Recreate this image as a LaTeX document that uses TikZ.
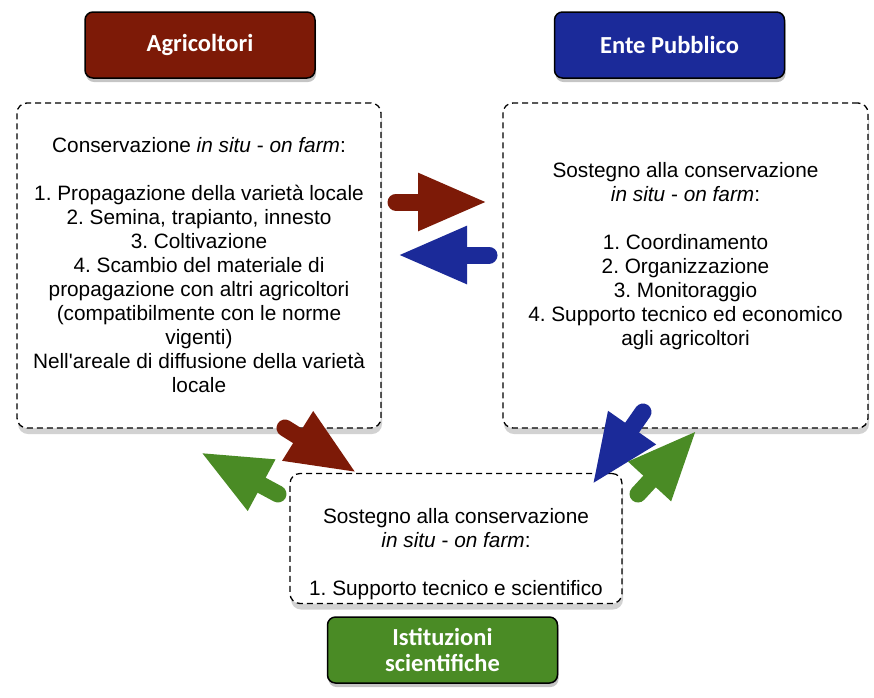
\documentclass[tikz,border=0pt]{standalone}
\usepackage{fontspec}
\setmainfont{Liberation Sans}
\newfontfamily\titlefont{Carlito}
\usepackage{xcolor}
\usetikzlibrary{arrows.meta,shadows,positioning}
\definecolor{agrired}{HTML}{7D1A07}
\definecolor{enteblue}{HTML}{1B2A99}
\definecolor{istgreen}{HTML}{4A8B25}
\frenchspacing

\begin{document}
\begin{tikzpicture}[x=1pt,y=-1pt,
titlebox/.style={draw=black,line width=1.5pt,rounded corners=8pt,minimum width=230pt,minimum height=66pt,text=white,align=center,font=\titlefont\bfseries\fontsize{24.5}{26}\selectfont,drop shadow={shadow xshift=1pt,shadow yshift=-4pt,opacity=0.45}},
dashbox/.style={draw=black,fill=white,dash pattern=on 6pt off 4pt,line width=1.3pt,rounded corners=10pt,align=center,font=\fontsize{20.8}{24}\selectfont,drop shadow={shadow xshift=1pt,shadow yshift=-6pt,opacity=0.35}},
fatarrow/.style={line width=17pt,line cap=round,-{Triangle[length=70pt,width=53pt]}}]
\useasboundingbox[fill=white](0,0)rectangle(874,697);
\node[titlebox,fill=agrired](agricoltori)at(200,45){Agricoltori};
\node[titlebox,fill=enteblue](ente)at(669.5,45){Ente Pubblico};
\node[dashbox,minimum width=364pt,minimum height=325pt](lbox)at(199,265.5){Conservazione \textit{in situ} - \textit{on farm}:\\ ~\\
1. Propagazione della variet\`a locale\\ 2. Semina, trapianto, innesto\\ 3. Coltivazione\\ 4. Scambio del materiale di\\
propagazione con altri agricoltori\\ (compatibilmente con le norme\\ vigenti)\\ Nell\textquotesingle areale di diffusione della variet\`a\\ locale};
\node[dashbox,minimum width=365pt,minimum height=325pt](rbox)at(685.5,265.5){Sostegno alla conservazione\\ \textit{in situ} - \textit{on farm}:\\ ~\\
1. Coordinamento\\ 2. Organizzazione\\ 3. Monitoraggio\\ 4. Supporto tecnico ed economico\\ agli agricoltori\\ ~};
\node[dashbox,minimum width=332pt,minimum height=127pt](bbox)at(456,538.5){\rule{0pt}{23pt}\\ Sostegno alla conservazione\\ \textit{in situ} - \textit{on farm}:\\ ~\\ 1. Supporto tecnico e scientifico};
\node[titlebox,fill=istgreen](istituzioni)at(442.5,650){Istituzioni\\ scientifiche};
\coordinate(ag1)at(396,202);\coordinate(ag2)at(488,202);
\coordinate(en1)at(489,255);\coordinate(en2)at(397,255);
\coordinate(ag3)at(285,428);\coordinate(ag4)at(357,473);
\coordinate(en3)at(643,412);\coordinate(en4)at(592,485);
\coordinate(is1)at(278,494);\coordinate(is2)at(200,452);
\coordinate(is3)at(638,494);\coordinate(is4)at(697,430);
\draw[fatarrow,agrired](ag1)--(ag2);
\draw[fatarrow,enteblue](en1)--(en2);
\draw[fatarrow,agrired](ag3)--(ag4);
\draw[fatarrow,istgreen](is1)--(is2);
\draw[fatarrow,enteblue](en3)--(en4);
\draw[fatarrow,istgreen](is3)--(is4);
\end{tikzpicture}
\end{document}
